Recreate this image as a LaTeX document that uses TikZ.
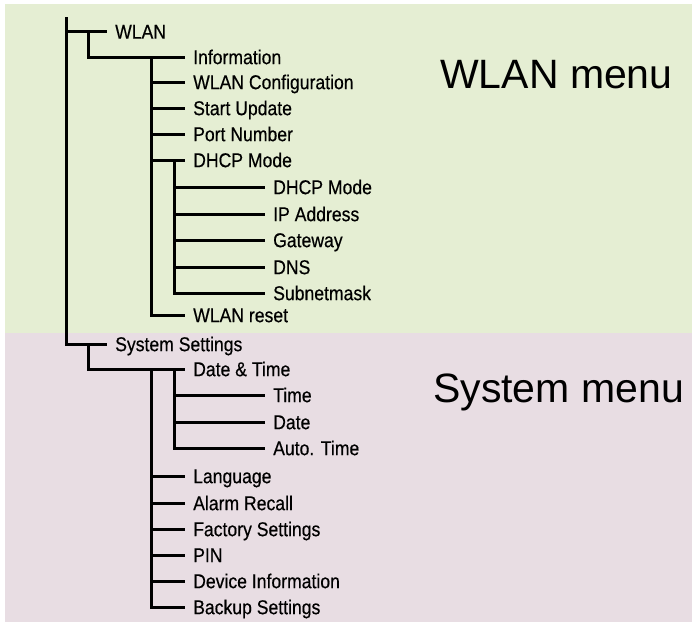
\documentclass[tikz,border=0pt]{standalone}
\usepackage{fontspec}
\setmainfont{Liberation Sans}
\newfontfamily\menufont[FakeStretch=0.88,FakeBold=0.4]{Liberation Sans}
\definecolor{wlanbg}{RGB}{229,238,211}
\definecolor{sysbg}{RGB}{232,221,227}
\begin{document}
\begin{tikzpicture}[x=1pt,y=-1pt,
  item/.style={anchor=west,inner xsep=8pt,inner ysep=0pt,text height=14.3pt,text depth=0pt,
    font=\menufont\fontsize{20}{20}\selectfont},
  big/.style={anchor=base west,inner sep=0pt,font=\fontsize{41}{41}\selectfont},
  tree/.style={line width=3pt,line join=miter,black}]
\useasboundingbox (0,0) rectangle (692,625);
\fill[wlanbg] (5,4) rectangle (692,333);
\fill[sysbg] (5,333) rectangle (692,622);
\node[big] (wlanmenu) at (440,88) {WLAN menu};
\node[big] (sysmenu) at (433,402) {System menu};
% nodes
\node[item] (wlan) at (107,31.5) {WLAN};
\node[item] (info) at (185,57) {Information};
\node[item] (wconf) at (185,82) {WLAN Configuration};
\node[item] (start) at (185,108) {Start Update};
\node[item] (port) at (185,134) {Port Number};
\node[item] (dhcp) at (185,160) {DHCP Mode};
\node[item] (dhcpm) at (265,187) {DHCP Mode};
\node[item] (ip) at (265,214) {IP Address};
\node[item] (gw) at (265,240) {Gateway};
\node[item] (dns) at (265,267) {DNS};
\node[item] (subnet) at (265,293) {Subnetmask};
\node[item] (wreset) at (185,315) {WLAN reset};
\node[item] (sys) at (107,344) {System Settings};
\node[item] (dt) at (185,369) {Date \& Time};
\node[item] (time) at (265,395) {Time};
\node[item] (date) at (265,422) {Date};
\node[item] (auto) at (265,448) {Auto. Time};
\node[item] (lang) at (185,476) {Language};
\node[item] (alarm) at (185,503) {Alarm Recall};
\node[item] (factory) at (185,529) {Factory Settings};
\node[item] (pin) at (185,555) {PIN};
\node[item] (devinfo) at (185,581) {Device Information};
\node[item] (backup) at (185,607) {Backup Settings};
% vertical positions
\coordinate (rtop) at (66.5,17);
\coordinate (xa) at (88,0);
\coordinate (xb) at (151,0);
\coordinate (xc) at (174.5,0);
% root
\draw[tree] (rtop) |- (sys.west);
\draw[tree] (rtop |- wlan.west) -- (wlan.west);
% WLAN subtree
\draw[tree] (xa |- wlan.west) |- (info.west);
\draw[tree] (xb |- info.west) |- (wreset.west);
\foreach \n in {wconf,start,port,dhcp}
  \draw[tree] (xb |- \n.west) -- (\n.west);
\draw[tree] (xc |- dhcp.west) |- (subnet.west);
\foreach \n in {dhcpm,ip,gw,dns}
  \draw[tree] (xc |- \n.west) -- (\n.west);
% System subtree
\draw[tree] (xa |- sys.west) |- (dt.west);
\draw[tree] (xb |- dt.west) |- (backup.west);
\foreach \n in {lang,alarm,factory,pin,devinfo}
  \draw[tree] (xb |- \n.west) -- (\n.west);
\draw[tree] (xc |- dt.west) |- (auto.west);
\foreach \n in {time,date}
  \draw[tree] (xc |- \n.west) -- (\n.west);
\end{tikzpicture}
\end{document}
